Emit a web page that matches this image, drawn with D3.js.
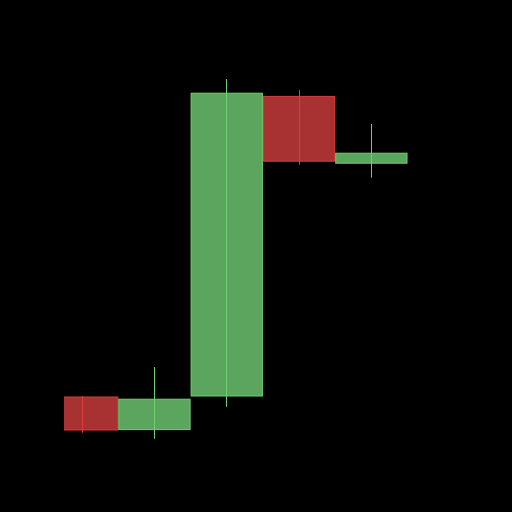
<!DOCTYPE html>
<html><head><meta charset="utf-8">
<script src="https://cdn.jsdelivr.net/npm/d3@7"></script>
<style>html,body{margin:0;padding:0;background:#000;}svg{display:block;}</style>
</head><body>
<svg id="c" width="512" height="512"></svg>
<script>
const periods = ["P1","P2","P3","P4","P5"];
const openVals  = [15.75, 7.6, 16.0, 90.9, 74.2];
const closeVals = [7.5, 15.2, 91.7, 74.7, 76.7];
const highVals  = [16.0, 23.25, 95.25, 92.5, 84.0];
const lowVals   = [6.8, 5.3, 13.3, 73.8, 70.6];

const svg = d3.select("#c");
svg.append("rect").attr("width",512).attr("height",512).attr("fill","#000");
const x = d3.scaleBand().domain(periods).range([46, 407.5]).padding(0);
const y = d3.scaleLinear().domain([0,100]).range([460,60]);

svg.append("defs").append("clipPath").attr("id","clip")
  .append("rect").attr("x",64).attr("y",0).attr("width",448-64+20).attr("height",512);

const data = periods.map((p,i)=>({p,o:openVals[i],c:closeVals[i],h:highVals[i],l:lowVals[i]}));
const g = svg.append("g").attr("clip-path","url(#clip)");
const up = {fill:"#5ba55f", stroke:"#6fd26f"};
const dn = {fill:"#a83232", stroke:"#dc3c3c"};

g.selectAll("rect.body").data(data).join("rect").attr("class","body")
  .attr("x",d=>x(d.p)+0.5)
  .attr("y",d=>y(Math.max(d.o,d.c)))
  .attr("width",x.bandwidth()-1)
  .attr("height",d=>Math.abs(y(d.o)-y(d.c)))
  .attr("fill",d=>d.c>=d.o?up.fill:dn.fill)
  .attr("stroke",d=>d.c>=d.o?up.stroke:dn.stroke)
  .attr("stroke-width",1);

g.selectAll("line.wick").data(data).join("line").attr("class","wick")
  .attr("x1",d=>Math.floor(x(d.p)+x.bandwidth()/2)+0.5)
  .attr("x2",d=>Math.floor(x(d.p)+x.bandwidth()/2)+0.5)
  .attr("y1",d=>y(d.h)).attr("y2",d=>y(d.l))
  .attr("stroke",d=>d.c>=d.o?up.stroke:dn.stroke)
  .attr("stroke-width",1);
</script>
</body></html>
